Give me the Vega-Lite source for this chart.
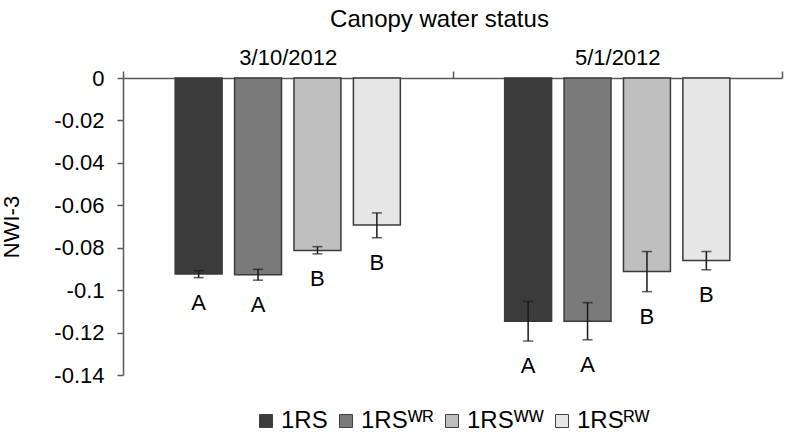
{
  "$schema": "https://vega.github.io/schema/vega-lite/v6.json",
  "autosize": {"type": "none"},
  "padding": {"left": 123, "top": 78, "right": 4, "bottom": 60},
  "width": 659,
  "height": 297,
  "title": {
    "text": "Canopy water status",
    "anchor": "middle",
    "frame": "group",
    "dx": -13,
    "fontSize": 24,
    "fontWeight": "normal",
    "font": "Liberation Sans",
    "color": "#000000",
    "offset": 14
  },
  "data": {
    "values": [
      {"date": "3/10/2012", "trt": "1RS", "value": -0.0924, "lo": -0.0941, "hi": -0.0908, "letter": "A"},
      {"date": "3/10/2012", "trt": "1RS\u1d42\u1d3f", "value": -0.0928, "lo": -0.0953, "hi": -0.0902, "letter": "A"},
      {"date": "3/10/2012", "trt": "1RS\u1d42\u1d42", "value": -0.0813, "lo": -0.0829, "hi": -0.0795, "letter": "B"},
      {"date": "3/10/2012", "trt": "1RS\u1d3f\u1d42", "value": -0.0693, "lo": -0.0753, "hi": -0.0636, "letter": "B"},
      {"date": "5/1/2012", "trt": "1RS", "value": -0.1147, "lo": -0.1240, "hi": -0.1053, "letter": "A"},
      {"date": "5/1/2012", "trt": "1RS\u1d42\u1d3f", "value": -0.1147, "lo": -0.1234, "hi": -0.1059, "letter": "A"},
      {"date": "5/1/2012", "trt": "1RS\u1d42\u1d42", "value": -0.0912, "lo": -0.1007, "hi": -0.0818, "letter": "B"},
      {"date": "5/1/2012", "trt": "1RS\u1d3f\u1d42", "value": -0.0860, "lo": -0.0904, "hi": -0.0818, "letter": "B"}
    ]
  },
  "encoding": {
    "x": {
      "field": "date",
      "type": "nominal",
      "sort": ["3/10/2012", "5/1/2012"],
      "scale": {"paddingInner": 0, "paddingOuter": 0},
      "axis": {
        "orient": "top",
        "title": null,
        "labelAngle": 0,
        "tickBand": "extent",
        "tickSize": 7,
        "labelPadding": 2,
        "labelFontSize": 22,
        "labelFont": "Liberation Sans",
        "labelColor": "#000000",
        "domainColor": "#595959",
        "domainWidth": 1.5,
        "tickColor": "#595959",
        "tickWidth": 1.5
      }
    },
    "xOffset": {
      "field": "trt",
      "type": "nominal",
      "sort": ["1RS", "1RS\u1d42\u1d3f", "1RS\u1d42\u1d42", "1RS\u1d3f\u1d42"],
      "scale": {"paddingInner": 0.21, "paddingOuter": 0.878}
    }
  },
  "layer": [
    {
      "mark": {"type": "bar", "stroke": "#3a3a3a", "strokeWidth": 1.5},
      "encoding": {
        "y": {
          "field": "value",
          "type": "quantitative",
          "scale": {"domain": [-0.14, 0], "nice": false},
          "axis": {
            "title": "NWI-3",
            "titleFontSize": 22,
            "titleFont": "Liberation Sans",
            "titleFontWeight": "normal",
            "titleColor": "#000000",
            "titlePadding": 30,
            "values": [0, -0.02, -0.04, -0.06, -0.08, -0.1, -0.12, -0.14],
            "labelExpr": "datum.value == 0 ? '0' : '-' + format(abs(datum.value), '.2~f')",
            "labelFontSize": 22,
            "labelFont": "Liberation Sans",
            "labelColor": "#000000",
            "labelPadding": 13,
            "tickSize": 6,
            "tickColor": "#595959",
            "tickWidth": 1.5,
            "domainColor": "#595959",
            "domainWidth": 1.5,
            "grid": false
          }
        },
        "color": {
          "field": "trt",
          "type": "nominal",
          "scale": {
            "domain": ["1RS", "1RS\u1d42\u1d3f", "1RS\u1d42\u1d42", "1RS\u1d3f\u1d42"],
            "range": ["#3b3b3b", "#7a7a7a", "#bfbfbf", "#e6e6e6"]
          },
          "legend": {
            "title": null,
            "orient": "none",
            "direction": "horizontal",
            "legendX": 131,
            "legendY": 331,
            "symbolType": "square",
            "symbolSize": 169,
            "symbolStrokeColor": "#404040",
            "symbolStrokeWidth": 1,
            "labelFontSize": 24,
            "labelFont": "Liberation Sans",
            "labelColor": "#000000",
            "labelOffset": 3,
            "columnPadding": 6
          }
        }
      }
    },
    {
      "mark": {"type": "rule", "color": "#1a1a1a", "strokeWidth": 1.5},
      "encoding": {
        "y": {"field": "lo", "type": "quantitative"},
        "y2": {"field": "hi"}
      }
    },
    {
      "mark": {"type": "tick", "color": "#1a1a1a", "size": 10, "thickness": 1.5},
      "encoding": {
        "y": {"field": "lo", "type": "quantitative"}
      }
    },
    {
      "mark": {"type": "tick", "color": "#1a1a1a", "size": 10, "thickness": 1.5},
      "encoding": {
        "y": {"field": "hi", "type": "quantitative"}
      }
    },
    {
      "mark": {"type": "text", "dy": 25, "baseline": "middle", "fontSize": 22, "font": "Liberation Sans", "color": "#000000"},
      "encoding": {
        "y": {"field": "lo", "type": "quantitative"},
        "text": {"field": "letter"}
      }
    }
  ],
  "config": {
    "view": {"stroke": null}
  }
}
